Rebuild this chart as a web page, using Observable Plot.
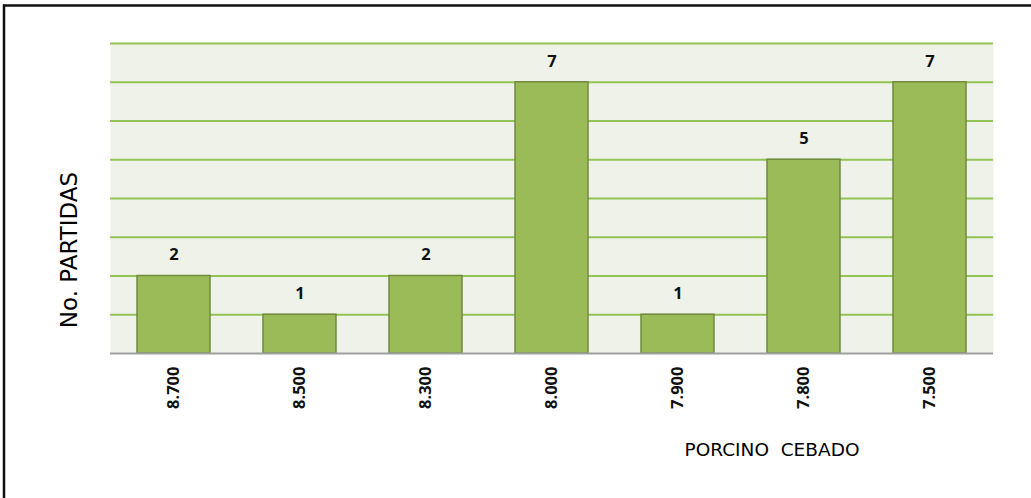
<!DOCTYPE html>
<html>
<head>
<meta charset="utf-8">
<script src="https://cdn.jsdelivr.net/npm/d3@7"></script>
<script src="https://cdn.jsdelivr.net/npm/@observablehq/plot@0.6"></script>
<style>
  html, body { margin: 0; padding: 0; background: #fff; }
  #chart svg { display: block; }
</style>
</head>
<body>
<div id="chart"></div>
<script>
const categories = ["8.700", "8.500", "8.300", "8.000", "7.900", "7.800", "7.500"];
const partidas = [2, 1, 2, 7, 1, 5, 7];
const gridValues = [1, 2, 3, 4, 5, 6, 7, 8];
const yTitle = "No. PARTIDAS";
const xTitle = "PORCINO\u00a0\u00a0CEBADO";

const data = categories.map((c, i) => ({ cat: c, value: partidas[i] }));

const W = 1031, H = 498;
const chart = Plot.plot({
  width: W,
  height: H,
  marginLeft: 110,
  marginRight: 38,
  marginTop: 43,
  marginBottom: 145,
  style: { background: "transparent", overflow: "visible", fontFamily: "Open Sans", fontSize: "16.5px", fontWeight: 700 },
  x: { domain: categories, paddingInner: 0.42, paddingOuter: 0.21, axis: null },
  y: { domain: [0, 8], axis: null },
  marks: [
    Plot.frame({ fill: "#EEF2E8", stroke: null }),
    Plot.ruleY(gridValues, { stroke: "#92C353", strokeWidth: 2 }),
    Plot.barY(data, { x: "cat", y: "value", fill: "#9BBB59", stroke: "#718A3E", strokeWidth: 1.5 }),
    Plot.ruleY([0], { stroke: "#A0A0A0", strokeWidth: 2 }),
    Plot.text(data, { x: "cat", y: "value", text: d => String(d.value), dy: -21, fontSize: 16.5, fontWeight: 700, fill: "#111", fontFamily: "Open Sans" }),
    Plot.axisX({ tickSize: 0, tickRotate: -90, tickPadding: 13, fontSize: 16.5, fontWeight: 700, fontFamily: "Open Sans", fill: "#111", label: null })
  ]
});

document.getElementById("chart").appendChild(chart);

const svg = d3.select(chart);
svg.selectAll("text").style("font-weight", "700").style("font-size", "16.5px").style("font-family", "Open Sans");
// outer frame (top and left edges visible)
svg.append("line").attr("x1", 3).attr("x2", W).attr("y1", 5.5).attr("y2", 5.5)
  .attr("stroke", "#111").attr("stroke-width", 2.5);
svg.append("line").attr("x1", 4).attr("x2", 4).attr("y1", 4.5).attr("y2", H)
  .attr("stroke", "#111").attr("stroke-width", 2.5);
// y title
svg.append("text")
  .attr("transform", `translate(77,250) rotate(-90)`)
  .attr("text-anchor", "middle")
  .style("font-family", "DejaVu Sans")
  .style("font-size", "23px")
  .style("font-weight", "400")
  .attr("fill", "#000")
  .text(yTitle);
// x title
svg.append("text")
  .attr("x", 772).attr("y", 456)
  .attr("text-anchor", "middle")
  .style("font-family", "DejaVu Sans")
  .style("font-size", "18.5px")
  .style("font-weight", "400")
  .attr("fill", "#000")
  .text(xTitle);
</script>
</body>
</html>
